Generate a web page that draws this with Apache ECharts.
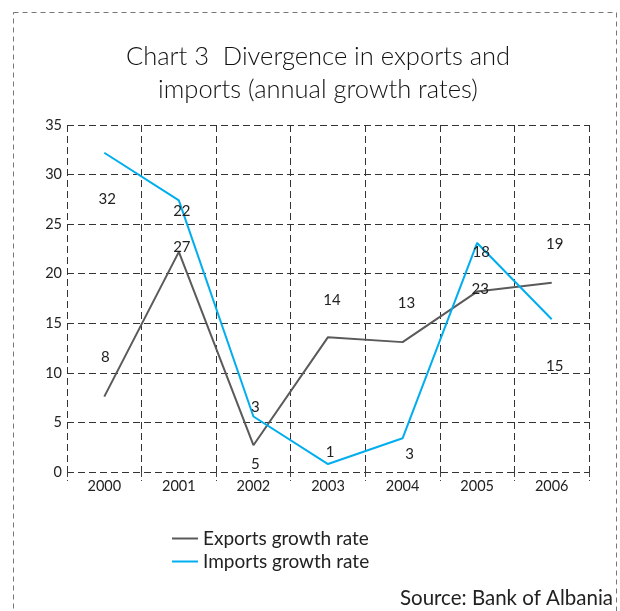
<!DOCTYPE html>
<html>
<head>
<meta charset="utf-8">
<script src="https://cdn.jsdelivr.net/npm/echarts@6/dist/echarts.min.js"></script>
<style>
html,body{margin:0;padding:0;background:#fff;}
#chart{width:620px;height:611px;}
</style>
</head>
<body>
<div id="chart"></div>
<script>
var categories = ['2000','2001','2002','2003','2004','2005','2006'];
var exportsValues = [7.6, 22.2, 2.7, 13.6, 13.1, 18.2, 19.1];
var importsValues = [32.2, 27.4, 5.6, 0.8, 3.4, 23.1, 15.4];
var exportsLabels = ['8','27','5','14','13','23','19'];
var importsLabels = ['32','22','3','1','3','18','15'];
var yTicks = [0,5,10,15,20,25,30,35];

// label offsets (style only)
var exportsOffsets = [[1,-39],[3,-5],[2,19],[4,-37],[4,-39],[3,-2],[3,-38]];
var importsOffsets = [[3,46],[3,11],[2,-9],[2,-12],[7,16],[4,9],[3,47]];

var FONT = 'Lato, "DejaVu Sans", sans-serif';

function buildData(values, labels, offsets){
  return values.map(function(v,i){
    return {
      value: v,
      label: {
        show: true,
        formatter: labels[i],
        position: 'inside',
        offset: offsets[i],
        color: '#222',
        fontSize: 15,
        fontFamily: FONT
      }
    };
  });
}

var chart = echarts.init(document.getElementById('chart'), null, {renderer:'canvas'});
chart.setOption({
  animation: false,
  backgroundColor: '#fff',
  graphic: [{
    type: 'rect',
    shape: {x: 13.5, y: 12.5, width: 603, height: 640},
    style: {fill: 'none', stroke: '#777', lineWidth: 1, lineDash: [5,4]},
    silent: true
  }, {
    type: 'text',
    x: 318,
    y: 40,
    style: {
      text: 'Chart 3  Divergence in exports and\nimports (annual growth rates)',
      font: '300 25.5px ' + FONT,
      fill: '#111',
      textAlign: 'center',
      lineHeight: 33
    }
  }, {
    type: 'text',
    right: 7,
    top: 588,
    style: {
      text: 'Source: Bank of Albania',
      font: '20.5px ' + FONT,
      fill: '#222'
    }
  }],
  legend: {
    orient: 'vertical',
    left: 167,
    top: 524,
    itemWidth: 26,
    itemHeight: 2,
    itemGap: 4,
    icon: 'rect',
    textStyle: {fontSize: 19, fontFamily: FONT, color: '#222'},
    data: ['Exports growth rate', 'Imports growth rate']
  },
  grid: {left: 67, right: 31, top: 125, bottom: 139, containLabel: false},
  xAxis: {
    type: 'category',
    data: categories,
    boundaryGap: true,
    axisLine: {show: false},
    axisTick: {show: true, length: 9, lineStyle: {color: '#444', type: [5,3]}},
    axisLabel: {color: '#222', fontSize: 14.5, fontFamily: FONT, margin: 7},
    splitLine: {show: true, lineStyle: {color: '#333', type: [7,4], width: 1}}
  },
  yAxis: {
    type: 'value',
    min: yTicks[0],
    max: yTicks[yTicks.length-1],
    interval: 5,
    axisLine: {show: false},
    axisTick: {show: false},
    axisLabel: {color: '#222', fontSize: 14.5, fontFamily: FONT, margin: 5, padding: [6,0,0,0]},
    splitLine: {show: true, lineStyle: {color: '#333', type: [7,4], width: 1}}
  },
  series: [{
    name: 'Exports growth rate',
    type: 'line',
    data: buildData(exportsValues, exportsLabels, exportsOffsets),
    symbol: 'circle',
    symbolSize: 0,
    showSymbol: true,
    itemStyle: {color: '#5a5a5a'},
    lineStyle: {color: '#5a5a5a', width: 2},
    z: 3
  }, {
    name: 'Imports growth rate',
    type: 'line',
    data: buildData(importsValues, importsLabels, importsOffsets),
    symbol: 'circle',
    symbolSize: 0,
    showSymbol: true,
    itemStyle: {color: '#00aeef'},
    lineStyle: {color: '#00aeef', width: 2},
    z: 4
  }]
});
</script>
</body>
</html>
